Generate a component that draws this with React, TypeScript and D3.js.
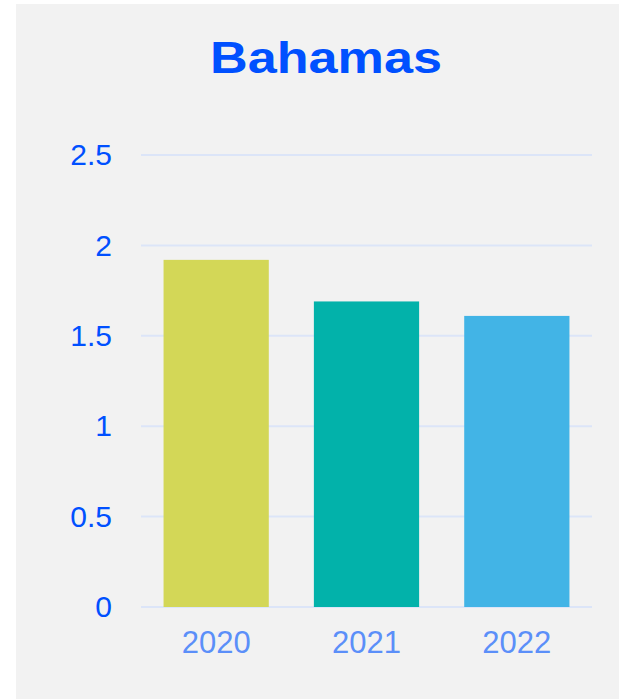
import { useEffect, useRef } from 'react';
import * as d3 from 'd3';

const years = ['2020', '2021', '2022'];
const values = [1.92, 1.69, 1.61];
const barColors = ['#d3d757', '#02b2aa', '#42b4e6'];
const yTicks = [0, 0.5, 1, 1.5, 2, 2.5];

export default function App() {
    const chartRef = useRef<SVGSVGElement>(null);

    useEffect(() => {
        if (!chartRef.current) return;

        const svg = d3.select(chartRef.current);
        svg.selectAll('*').remove();

        const width = 619;
        const height = 699;
        const margin = { top: 155, right: 27, bottom: 92, left: 141 };
        const innerWidth = width - margin.left - margin.right;
        const innerHeight = height - margin.top - margin.bottom;

        // Panel background
        svg.append('rect')
            .attr('x', 16)
            .attr('y', 4)
            .attr('width', width - 16)
            .attr('height', height - 4)
            .attr('fill', '#f2f2f2');

        // Title (stretched a bit to match the wide glyphs of the original)
        svg.append('text')
            .attr('x', 210)
            .attr('y', 73)
            .attr('fill', '#0050ff')
            .attr('font-family', 'Liberation Sans, Arial, sans-serif')
            .attr('font-size', '44px')
            .attr('font-weight', 'bold')
            .attr('textLength', 232)
            .attr('lengthAdjust', 'spacingAndGlyphs')
            .text('Bahamas');

        const g = svg.append('g')
            .attr('transform', `translate(${margin.left},${margin.top})`);

        // Scales
        const x = d3.scaleBand()
            .domain(years)
            .range([0, innerWidth])
            .paddingInner(0.3)
            .paddingOuter(0.15);

        const y = d3.scaleLinear()
            .domain([0, 2.5])
            .range([innerHeight, 0]);

        // Grid
        g.selectAll('.grid')
            .data(yTicks)
            .enter()
            .append('line')
            .attr('x1', 0)
            .attr('x2', innerWidth)
            .attr('y1', d => y(d))
            .attr('y2', d => y(d))
            .attr('stroke', '#dce5f8')
            .attr('stroke-width', 2);

        // Y axis labels
        const yAxis = g.append('g')
            .call(d3.axisLeft(y).tickValues(yTicks).tickSize(0).tickPadding(29).tickFormat(d => `${d}`));
        yAxis.select('.domain').remove();
        yAxis.selectAll('text')
            .attr('fill', '#0050ff')
            .attr('font-family', 'Liberation Sans, Arial, sans-serif')
            .style('font-size', '30px');

        // Bars
        g.selectAll('.bar')
            .data(values)
            .enter()
            .append('rect')
            .attr('x', (_, i) => x(years[i])!)
            .attr('y', d => y(d))
            .attr('width', x.bandwidth())
            .attr('height', d => innerHeight - y(d))
            .attr('fill', (_, i) => barColors[i]);

        // X axis labels
        const xAxis = g.append('g')
            .attr('transform', `translate(0,${innerHeight})`)
            .call(d3.axisBottom(x).tickSize(0).tickPadding(24));
        xAxis.select('.domain').remove();
        xAxis.selectAll('text')
            .attr('fill', '#5b8ff9')
            .attr('font-family', 'Liberation Sans, Arial, sans-serif')
            .style('font-size', '31px');
    }, []);

    return (
        <svg
            ref={chartRef}
            width={619}
            height={699}
            style={{ position: 'absolute', left: 0, top: 0 }}
        ></svg>
    );
}
